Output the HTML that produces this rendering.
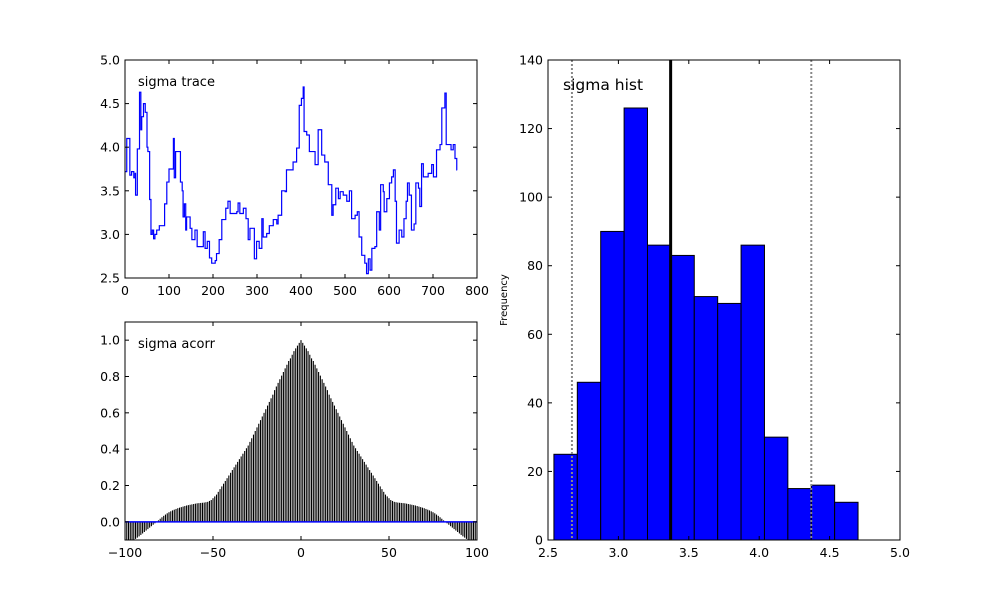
<!DOCTYPE html>
<html><head><meta charset="utf-8"><style>
body{margin:0;background:#fff}
svg{display:block;font-family:"DejaVu Sans","Liberation Sans",sans-serif}
</style></head><body>
<svg id="fig" width="1000" height="600" viewBox="0 0 1000 600">
<rect width="1000" height="600" fill="#fff"/>
</svg>
<script>
const traceIter=[0,4,11,15,20,23,24,28,33,36,38,42,46,50,52,56,59,62,65,68,72,78,85,90,95,100,110,112,115,126,130,132,135,138,140,148,152,159,164,174,178,182,187,192,197,205,208,214,220,229,234,239,254,257,261,269,275,280,284,292,294,299,305,311,314,322,328,337,345,348,356,364,367,382,390,396,401,405,407,413,419,424,432,439,445,447,454,462,470,473,479,485,489,496,504,510,515,523,528,532,538,545,549,553,557,561,568,572,578,581,587,589,595,601,606,610,614,617,623,629,634,639,642,646,651,657,661,667,670,674,678,689,697,701,708,716,720,727,730,738,741,746,750,754];
const traceVals=[3.72,4.1,3.68,3.72,3.65,3.7,3.45,3.98,4.63,4.2,4.35,4.5,4.4,4.0,3.95,3.4,3.0,3.05,2.95,3.0,3.05,3.1,3.1,3.35,3.6,3.75,4.1,3.65,3.95,3.6,3.5,3.2,3.35,3.05,3.2,3.07,2.94,3.05,2.86,2.86,3.03,2.84,2.92,2.73,2.67,2.7,2.78,2.94,3.17,3.3,3.38,3.24,3.26,3.36,3.24,3.3,3.18,2.94,3.07,3.07,2.72,2.92,2.84,3.18,2.97,3.01,3.1,3.17,3.12,3.22,3.5,3.49,3.74,3.83,3.99,4.48,4.56,4.69,4.18,4.14,3.95,3.95,3.8,4.2,4.2,3.91,3.83,3.57,3.22,3.34,3.53,3.41,3.49,3.45,3.38,3.5,3.18,3.22,3.26,2.97,2.76,2.67,2.55,2.72,2.59,2.84,2.86,3.26,3.05,3.57,3.49,3.26,3.41,3.59,3.66,3.74,3.38,2.9,3.05,2.97,3.18,3.38,3.59,3.45,3.05,3.12,3.59,3.53,3.32,3.81,3.66,3.7,3.8,3.66,3.97,4.03,4.45,4.62,4.03,4.03,3.97,4.03,3.87,3.74];
const acLagsPos=[0,1,2,3,4,5,6,7,8,9,10,11,12,13,14,15,16,17,18,19,20,21,22,23,24,25,26,27,28,29,30,31,32,33,34,35,36,37,38,39,40,41,42,43,44,45,46,47,48,49,50,51,52,53,54,55,56,57,58,59,60,61,62,63,64,65,66,67,68,69,70,71,72,73,74,75,76,77,78,79,80,81,82,83,84,85,86,87,88,89,90,91,92,93,94,95,96,97,98,99,100];
const acVals=[1.00,.985,.97,.955,.94,.92,.90,.885,.865,.845,.825,.805,.785,.765,.745,.725,.70,.68,.66,.64,.62,.60,.58,.56,.54,.52,.50,.48,.46,.44,.42,.405,.39,.375,.36,.345,.33,.315,.30,.285,.27,.255,.24,.225,.21,.195,.18,.165,.15,.14,.13,.12,.115,.11,.108,.106,.105,.104,.103,.102,.10,.098,.096,.094,.092,.09,.087,.084,.081,.078,.075,.071,.067,.063,.058,.053,.047,.04,.033,.025,.017,.008,0,-.008,-.016,-.024,-.032,-.04,-.048,-.056,-.064,-.072,-.08,-.087,-.094,-.1,-.11,-.12,-.13,-.14,-.15];
const histCounts=[25,46,90,126,86,83,71,69,86,30,15,16,11];
const histStart=2.542, histEnd=4.702;
const meanVal=3.371, hpdLow=2.67, hpdHigh=4.37;
const traceXTicks=[0,100,200,300,400,500,600,700,800];
const traceYTicks=[2.5,3.0,3.5,4.0,4.5,5.0];
const acXTicks=[-100,-50,0,50,100];
const acYTicks=[0.0,0.2,0.4,0.6,0.8,1.0];
const histXTicks=[2.5,3.0,3.5,4.0,4.5,5.0];
const histYTicks=[0,20,40,60,80,100,120,140];

const NS="http://www.w3.org/2000/svg";
const svg=document.getElementById('fig');
function mk(tag,attrs,parent){const e=document.createElementNS(NS,tag);for(const k in attrs)e.setAttribute(k,attrs[k]);(parent||svg).appendChild(e);return e;}
function scale(d0,d1,r0,r1){return v=>r0+(v-d0)/(d1-d0)*(r1-r0);}

function axes(name,x0,y0,x1,y1,xs,ys,xt,yt,xfmt,yfmt){
  const g=mk('g',{});
  
  
  const cp=mk('clipPath',{id:name+'-clip'},g);
  mk('rect',{x:x0,y:y0,width:x1-x0,height:y1-y0},cp);
  const plot=mk('g',{'clip-path':'url(#'+name+'-clip)'},g);
  
  
  return {g,plot,finish(){
    const fr=mk('rect',{x:x0,y:y0,width:x1-x0,height:y1-y0,fill:'none',stroke:'#000','stroke-width':1},g);
    
    
    xt.forEach(v=>{const x=xs(v);
      mk('line',{x1:x,x2:x,y1:y1,y2:y1-4,stroke:'#000'},g);
      mk('line',{x1:x,x2:x,y1:y0,y2:y0+4,stroke:'#000'},g);
      const t=mk('text',{x:x,y:y1+17,'text-anchor':'middle','font-size':12.5,fill:'#000'},g);
      t.textContent=xfmt(v);
      
      });
    yt.forEach(v=>{const y=ys(v);
      mk('line',{x1:x0,x2:x0+4,y1:y,y2:y,stroke:'#000'},g);
      mk('line',{x1:x1,x2:x1-4,y1:y,y2:y,stroke:'#000'},g);
      const t=mk('text',{x:x0-5,y:y+4.5,'text-anchor':'end','font-size':12.5,fill:'#000'},g);
      t.textContent=yfmt(v);
      
      });
  }};
}

// Trace
{const X0=125,X1=477,Y0=60,Y1=278;
const xs=scale(0,800,X0,X1), ys=scale(2.5,5.0,Y1,Y0);
const a=axes('trace',X0,Y0,X1,Y1,xs,ys,traceXTicks,traceYTicks,v=>String(v),v=>v.toFixed(1));
let d='';
traceIter.forEach((t,i)=>{const x=xs(t),y=ys(traceVals[i]);
  if(i===0)d+='M'+x+','+y;else d+='H'+x+'V'+y;});
d+='H'+xs(traceIter[traceIter.length-1]+1);
const p=mk('path',{d:d,fill:'none',stroke:'#0000ff','stroke-width':1.2},a.plot);


a.finish();
const t=mk('text',{x:138,y:86,'font-size':13,fill:'#000'},a.g);t.textContent='sigma trace';

}

// Acorr
{const X0=125,X1=477,Y0=322,Y1=540;
const xs=scale(-100,100,X0,X1), ys=scale(-0.1,1.1,Y1,Y0);
const a=axes('acorr',X0,Y0,X1,Y1,xs,ys,acXTicks,acYTicks,v=>v<0?'\u2212'+(-v):String(v),v=>v.toFixed(1));
const bars=mk('g',{},a.plot);


acLagsPos.forEach((lag,i)=>{const v=acVals[i];
  [lag,-lag].forEach((L,k)=>{if(k===1&&lag===0)return;
    const x=xs(L);
    const l=mk('line',{x1:x,x2:x,y1:ys(0),y2:ys(v),stroke:'#000','stroke-width':1.1},bars);
    
    });});
const zl=mk('line',{x1:X0,x2:X1,y1:ys(0),y2:ys(0),stroke:'#0000ff','stroke-width':1.5},a.plot);


a.finish();
const t=mk('text',{x:138,y:348,'font-size':13,fill:'#000'},a.g);t.textContent='sigma acorr';

}

// Histogram
{const X0=548,X1=900,Y0=60,Y1=540;
const xs=scale(2.5,5.0,X0,X1), ys=scale(0,140,Y1,Y0);
const a=axes('hist',X0,Y0,X1,Y1,xs,ys,histXTicks,histYTicks,v=>v.toFixed(1),v=>String(v));
const w=(histEnd-histStart)/histCounts.length;
histCounts.forEach((c,i)=>{const l=histStart+i*w;
  const r=mk('rect',{x:xs(l),y:ys(c),width:xs(l+w)-xs(l),height:ys(0)-ys(c),fill:'#0000ff',stroke:'#000','stroke-width':1},a.plot);
  
  });
[hpdLow,hpdHigh].forEach(v=>{const l=mk('line',{x1:xs(v),x2:xs(v),y1:Y0,y2:Y1,stroke:'#888','stroke-width':2,'stroke-dasharray':'2,2'},a.plot);
  
  });
const m=mk('line',{x1:xs(meanVal),x2:xs(meanVal),y1:Y0,y2:Y1,stroke:'#000','stroke-width':3},a.plot);


a.finish();
const t=mk('text',{x:563,y:90,'font-size':15.5,fill:'#000'},a.g);t.textContent='sigma hist';


const yl=mk('text',{x:0,y:0,'font-size':10,fill:'#000','text-anchor':'middle',transform:'translate(507,300) rotate(-90)'},a.g);
yl.textContent='Frequency';

}
</script>
</body></html>
